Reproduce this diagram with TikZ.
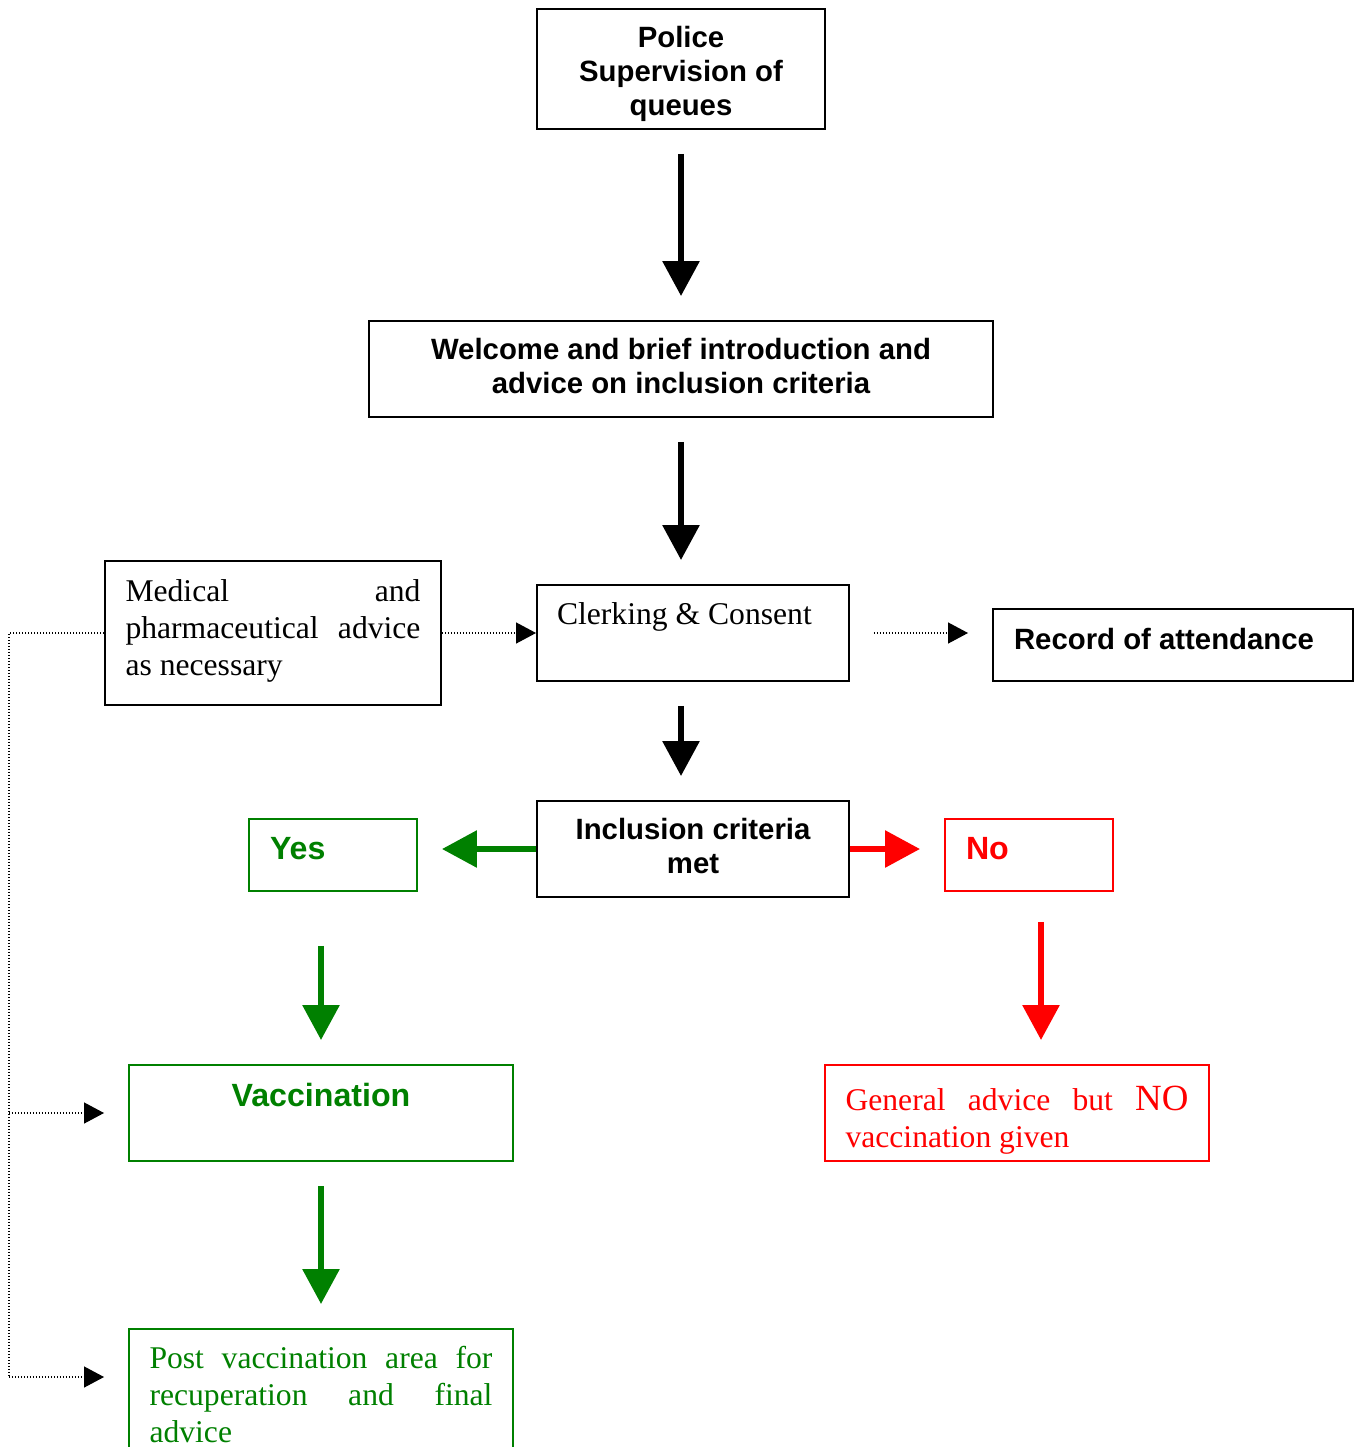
\documentclass[tikz,border=0pt]{standalone}
\usepackage{fontspec}
\setmainfont{Liberation Serif}
\setsansfont{Liberation Sans}
\usetikzlibrary{arrows.meta}
\definecolor{vgreen}{RGB}{0,128,0}
\newcommand{\headfont}{\sffamily\bfseries\fontsize{16.7}{19.3}\selectfont}
\newcommand{\tagfont}{\sffamily\bfseries\fontsize{18.3}{21}\selectfont}
\newcommand{\bodyfont}{\rmfamily\fontsize{18}{21.1}\selectfont}
\newcommand{\topbox}[3]{\parbox[t][#2][t]{#1}{#3}}

\begin{document}
\begin{tikzpicture}[x=0.02cm,y=-0.02cm,
    box/.style={draw,line width=0.04cm,inner sep=0pt},
    bigarrow/.style={line width=0.12cm,-{Triangle[length=0.7cm,width=0.72cm]},%
      shorten <=0.48cm,shorten >=0.48cm},
    dotline/.style={line width=0.025cm,dash pattern=on 0.025cm off 0.035cm},
    dotarrow/.style={dotline,-{Triangle[length=0.4cm,width=0.42cm]}}]
      \useasboundingbox (0,0) rectangle (1354,1447) ;
      \clip (0,0) rectangle (1354,1447) ;
      % main column
      \node[box,minimum width=5.76cm,minimum height=2.4cm,font=\headfont] %
      (police) at (681,69) {\topbox{5.36cm}{1.7cm}{\centering Police\\Supervision of\\queues}} ;
      \node[box,minimum width=12.48cm,minimum height=1.92cm,font=\headfont] %
      (welcome) at (681,369)
      {\topbox{11.68cm}{1.22cm}{\centering Welcome and brief introduction and\\advice on inclusion criteria}} ;
      \node[box,minimum width=6.24cm,minimum height=1.92cm,font=\bodyfont] %
      (clerk) at (693,633) {\topbox{5.44cm}{1.2cm}{Clerking \& Consent}} ;
      \node[box,minimum width=6.72cm,minimum height=2.88cm,font=\bodyfont] %
      (med) at (273,633)
      {\topbox{5.9cm}{2.14cm}{Medical and\linebreak pharmaceutical advice\linebreak as necessary}} ;
      \node[box,minimum width=7.2cm,minimum height=1.44cm,font=\headfont] %
      (record) at (1173,645) {\topbox{6.36cm}{0.68cm}{Record of attendance}} ;
      \node[box,minimum width=6.24cm,minimum height=1.92cm,font=\headfont] %
      (incl) at (693,849) {\topbox{5.44cm}{1.22cm}{\centering Inclusion criteria\\met}} ;
      % yes branch
      \node[box,vgreen,minimum width=3.36cm,minimum height=1.44cm,font=\tagfont] %
      (yes) at (333,855) {\topbox{2.52cm}{0.7cm}{Yes}} ;
      \node[box,vgreen,minimum width=7.68cm,minimum height=1.92cm,font=\tagfont] %
      (vacc) at (321,1113) {\topbox{6.84cm}{1.2cm}{\centering Vaccination}} ;
      \node[box,vgreen,minimum width=7.68cm,minimum height=2.88cm,font=\bodyfont] %
      (post) at (321,1401)
      {\topbox{6.86cm}{2.2cm}{Post vaccination area for\linebreak recuperation and final\linebreak advice}} ;
      % no branch
      \node[box,red,minimum width=3.36cm,minimum height=1.44cm,font=\tagfont] %
      (no) at (1029,855) {\topbox{2.52cm}{0.7cm}{No}} ;
      \node[box,red,minimum width=7.68cm,minimum height=1.92cm,font=\bodyfont] %
      (general) at (1017,1113)
      {\topbox{6.86cm}{1.08cm}{General advice but {\fontsize{21}{21.1}\selectfont NO}\linebreak vaccination given}} ;
      % arrows
      \draw[bigarrow] (police) -- (welcome) ;
      \draw[bigarrow] (welcome) -- (welcome |- clerk.north) ;
      \draw[bigarrow] (clerk.south -| welcome.south) -- (incl.north -| welcome.south) ;
      \draw[bigarrow,vgreen,shorten <=0pt] (incl.west) -- (incl.west -| yes.east) ;
      \draw[bigarrow,red,shorten <=0pt] (incl.east) -- (incl.east -| no.west) ;
      \draw[bigarrow,vgreen,shorten <=1.08cm] (yes.south -| vacc.north) -- (vacc.north) ;
      \draw[bigarrow,vgreen] (vacc) -- (post) ;
      \draw[bigarrow,red,shorten <=0.6cm] ([xshift=0.24cm]no.south) %
      -- ([xshift=0.24cm]no.south |- general.north) ;
      % dotted links
      \coordinate (railtop) at (9,633) ;
      \coordinate (railbot) at (9,1377) ;
      \draw[dotarrow] (med) -- (clerk) ;
      \draw[dotarrow,shorten <=0.48cm,shorten >=0.48cm] (clerk.east) -- (clerk.east -| record.west) ;
      \draw[dotline] (med.west) -- (railtop) -- (railbot) ;
      \draw[dotarrow,shorten >=0.48cm] (railtop |- vacc.west) -- (vacc.west) ;
      \draw[dotarrow,shorten >=0.48cm] (railbot) -- (railbot -| post.west) ;
    \end{tikzpicture}
\end{document}
